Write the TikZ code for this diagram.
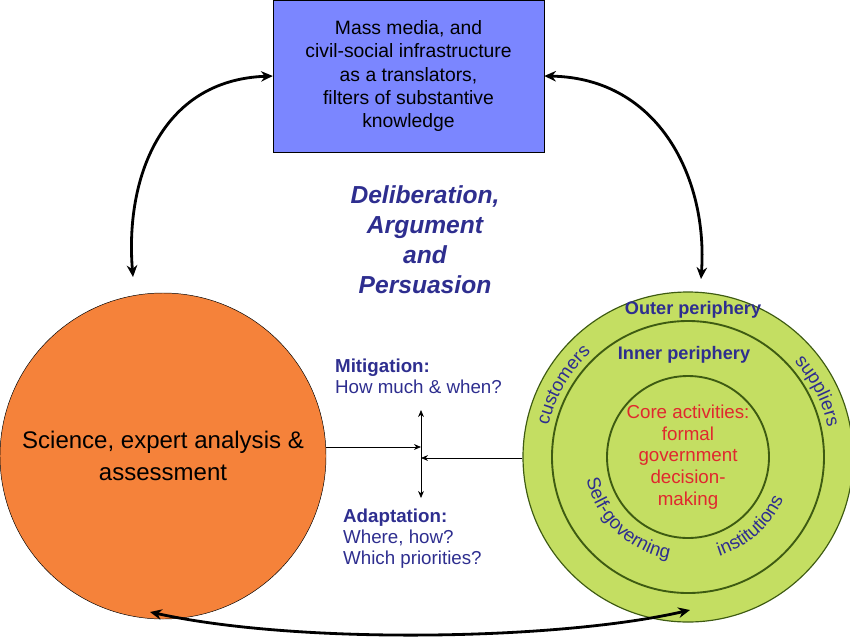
\documentclass[tikz,border=0pt]{standalone}
\usepackage{fontspec}
\setmainfont{Liberation Sans}
\usetikzlibrary{arrows.meta,positioning,decorations.text}
\definecolor{boxblue}{HTML}{7B86FF}
\definecolor{sciorange}{HTML}{F5823A}
\definecolor{govgreen}{HTML}{C4DE62}
\definecolor{ringgreen}{HTML}{3E5B12}
\definecolor{labblue}{HTML}{2E2E8F}
\definecolor{corered}{HTML}{E0282E}
\tikzset{
	loop/.style={line width=2.4pt,{Stealth[length=10pt,width=9pt]}-{Stealth[length=10pt,width=9pt]}},
	thin arrow/.style={line width=0.6pt,-{Stealth[length=6pt,width=5pt]}},
	ring/.style={circle,draw=ringgreen,line width=1.6pt,inner sep=0pt},
	lab/.style={text=labblue,font=\fontsize{16}{18}\selectfont},
	arclab/.style={decorate,decoration={text along path,text align=center,
		text={|\fontsize{16}{18}\selectfont\color{labblue}|#1}}},
}
\begin{document}
\begin{tikzpicture}[x=0.03cm,y=-0.03cm]
	\useasboundingbox (0,0) rectangle (850,637);

	\node[draw,fill=boxblue,minimum width=271*0.03cm,minimum height=152*0.03cm,align=center,
		font=\fontsize{16.5}{20}\selectfont] (media) at (408.5,76)
		{Mass media, and\\civil-social infrastructure\\as a translators,\\filters of substantive\\knowledge};

	\node[circle,draw,fill=sciorange,minimum size=326*0.03cm,inner sep=0pt,align=center,
		font=\fontsize{20.5}{27}\selectfont] (science) at (163,456)
		{Science, expert analysis \&\\assessment};

	\node[ring,fill=govgreen,line width=1pt,minimum size=330*0.03cm] (gov) at (688,457) {};
	\node[ring,minimum size=272*0.03cm] (inner) at (688,457) {};
	\node[ring,minimum size=162*0.03cm,align=center,text=corered,
		font=\fontsize{16}{18.5}\selectfont] (core) at (688,457)
		{Core activities:\\formal\\government\\decision-\\making};

	\node[lab,font=\fontsize{15.5}{18}\bfseries] (outer) at (693,310) {Outer periphery};
	\node[lab,font=\fontsize{15.5}{18}\bfseries] (innerlab) at (684,355) {Inner periphery};
	\begin{scope}[shift={(688,457)},y=0.03cm]
		\path[arclab=customers] (172:143) arc (172:128:143);
		\path[arclab=suppliers] (48:143) arc (48:6:143);
		\path[arclab=Self-governing] (190:104) arc (190:262:104);
		\path[arclab=institutions] (282:104) arc (282:342:104);
	\end{scope}

	\node[align=center,text=labblue,font=\fontsize{21}{25.5}\bfseries\itshape] (delib) at (425,240)
		{Deliberation,\\Argument\\and\\Persuasion};

	\node[lab,align=left,anchor=north west] (mitig) at (331,355)
		{\textbf{Mitigation:}\\How much \& when?};
	\node[lab,align=left,anchor=north west] (adapt) at (339,505)
		{\textbf{Adaptation:}\\Where, how?\\Which priorities?};

	\coordinate (mid) at (421,453);
	\coordinate (top) at (421,410);
	\coordinate (bot) at (421,498);
	\draw[thin arrow,{Stealth[length=6pt,width=5pt]}-{Stealth[length=6pt,width=5pt]}] (top) -- (bot);
	\draw[thin arrow] (science.east |- 0,447) -- (mid |- 0,447);
	\draw[thin arrow] (gov.west |- 0,458) -- (mid |- 0,458);

	\draw[loop] (media.west) .. controls (160,80) and (125,180) .. (133,277);
	\draw[loop] (media.east) .. controls (660,78) and (708,180) .. (701,279);
	\draw[loop] (150,612) .. controls (300,645) and (560,640) .. (690,610);
\end{tikzpicture}
\end{document}
